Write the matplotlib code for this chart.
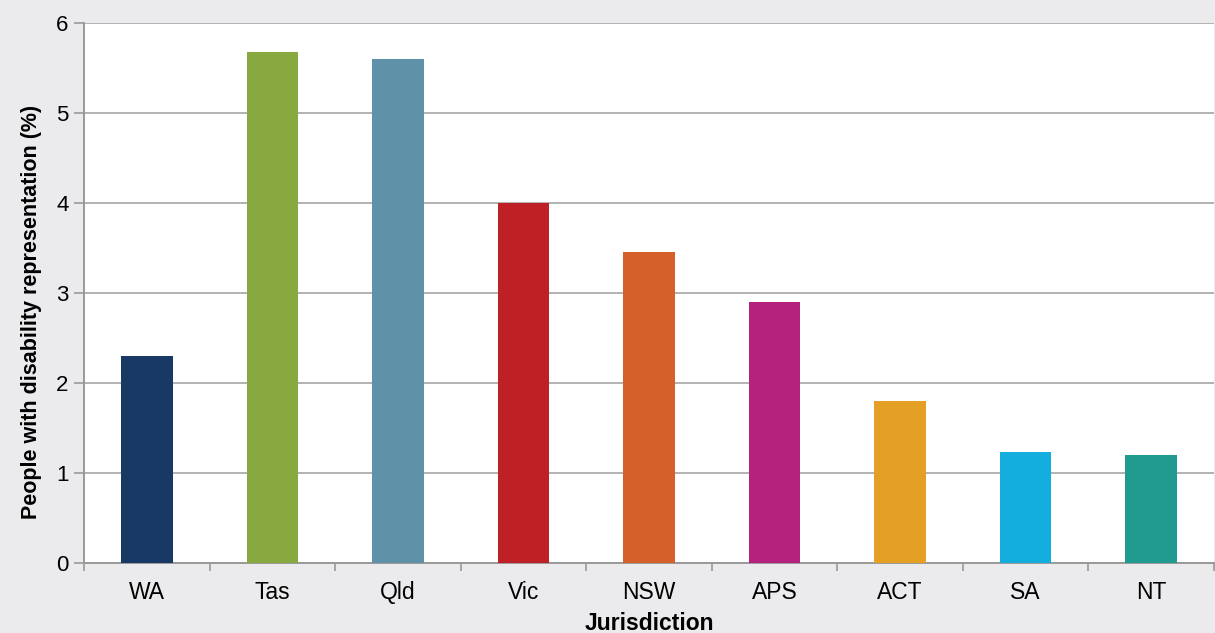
import matplotlib
matplotlib.use("Agg")
import matplotlib.pyplot as plt
import numpy as np

categories = ["WA", "Tas", "Qld", "Vic", "NSW", "APS", "ACT", "SA", "NT"]
values = [2.3, 5.68, 5.6, 4.0, 3.46, 2.9, 1.8, 1.23, 1.2]
colors = ["#173963", "#87a93f", "#5f92a8", "#be2026", "#d66128",
          "#b5227d", "#e4a024", "#13aede", "#219b90"]
yticks = [0, 1, 2, 3, 4, 5, 6]

plt.rcParams['font.family'] = ['Liberation Sans', 'DejaVu Sans']

fig = plt.figure(figsize=(12.15, 6.33), dpi=100, facecolor="#ebebed")
ax = fig.add_axes([84/1215, 1-563/633, 1130/1215, 540/633])
ax.set_facecolor("white")

x = np.arange(len(categories))
ax.bar(x, values, width=0.41, color=colors, zorder=3)

ax.set_xlim(-0.5, len(categories) - 0.5)
ax.set_ylim(0, 6)
ax.set_yticks(yticks)
ax.set_yticklabels([str(t) for t in yticks], fontsize=16)
ax.yaxis.grid(True, color="#a6a6a6", linewidth=1.2, zorder=0)

ax.set_xticks(x)
ax.set_xticklabels(categories, fontsize=16.5)
ax.tick_params(axis='x', length=0, pad=13)
ax.set_xticks(np.arange(-0.5, len(categories), 1.0), minor=True)
ax.tick_params(axis='x', which='minor', length=6, color="#999999", width=1.2)
ax.tick_params(axis='y', length=7, color="#999999", width=1.2, pad=4)

for s in ["top", "right"]:
    ax.spines[s].set_visible(False)
for s in ["left", "bottom"]:
    ax.spines[s].set_color("#999999")
    ax.spines[s].set_linewidth(1.4)

ax.set_ylabel("People with disability representation (%)", fontsize=15.5,
              fontweight="bold")
ax.yaxis.set_label_coords(-0.037, 0.465)
ax.set_xlabel("Jurisdiction", fontsize=16.5, fontweight="bold")
ax.xaxis.set_label_coords(0.5, -0.091)

fig.savefig("out.png", dpi=100, facecolor=fig.get_facecolor())
